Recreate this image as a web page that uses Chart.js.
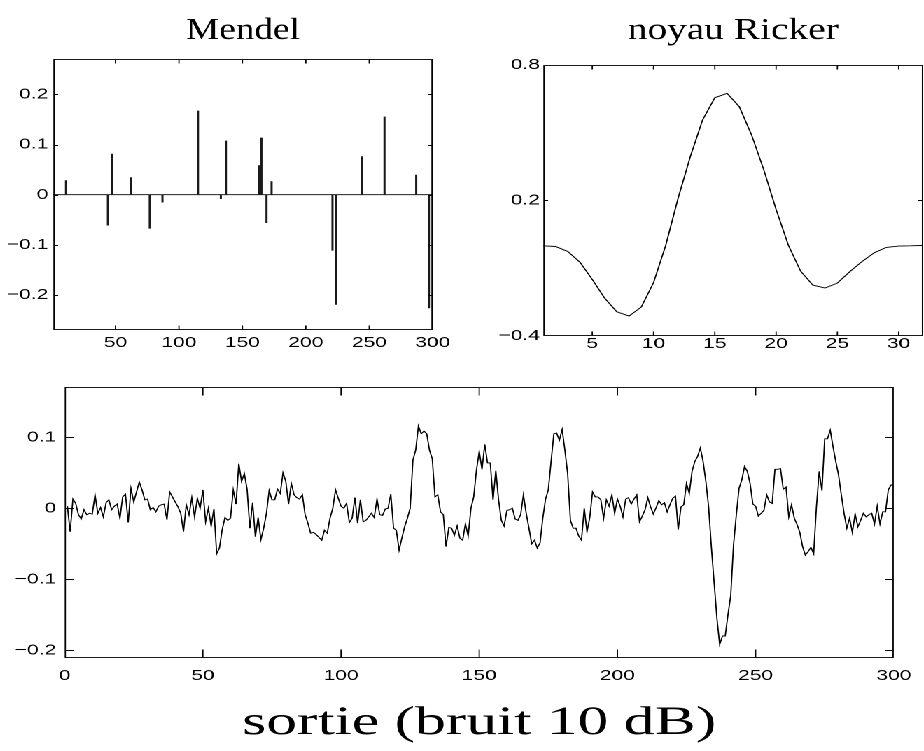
<!DOCTYPE html>
<html><head><meta charset="utf-8">
<script src="https://cdn.jsdelivr.net/npm/chart.js@4/dist/chart.umd.min.js"></script>
<style>
html,body{margin:0;padding:0;background:#fff;}
#page{position:relative;width:924px;height:751px;overflow:hidden;background:#fff;}
#wrap{position:absolute;left:0;top:0;width:660px;height:751px;transform:scaleX(1.4);transform-origin:0 0;}
canvas{position:absolute;}
</style></head><body>
<div id="page"><div id="wrap">
<canvas id="c1" width="330" height="370" style="left:0;top:0;width:330px;height:370px"></canvas>
<canvas id="c2" width="330" height="370" style="left:330px;top:0;width:330px;height:370px"></canvas>
<canvas id="c3" width="660" height="381" style="left:0;top:370px;width:660px;height:381px"></canvas>
</div></div>
<script>
// ---------- data ----------
const mendelTitle = 'Mendel';
const mendelPositions = [11, 44, 47, 62, 77, 87, 115, 133, 137, 163, 165, 169, 173, 221, 224, 244, 262, 287, 297];
const mendelAmplitudes = [0.028, -0.061, 0.081, 0.034, -0.067, -0.015, 0.167, -0.008, 0.107, 0.058, 0.113, -0.056, 0.026, -0.111, -0.219, 0.076, 0.155, 0.039, -0.226];
const mendelXTicks = [50, 100, 150, 200, 250, 300];
const mendelYTicks = [-0.2, -0.1, 0, 0.1, 0.2];

const rickerTitle = 'noyau Ricker';
const rickerIndex = [1,2,3,4,5,6,7,8,9,10,11,12,13,14,15,16,17,18,19,20,21,22,23,24,25,26,27,28,29,30,31,32];
const rickerValues = [-0.002, -0.005, -0.027, -0.075, -0.151, -0.233, -0.294, -0.313, -0.273, -0.165, 0.001, 0.208, 0.393, 0.555, 0.654, 0.673, 0.614, 0.489, 0.334, 0.159, 0.001, -0.114, -0.176, -0.189, -0.167, -0.117, -0.072, -0.033, -0.009, -0.003, -0.002, 0.000];
const rickerXTicks = [5, 10, 15, 20, 25, 30];
const rickerYTicks = [-0.4, 0.2, 0.8];

const sortieTitle = 'sortie (bruit 10 dB)';
const sortieValues = [
 0.003,-0.033,0.013,0.007,-0.009,-0.015,-0.002,-0.009,-0.007,-0.008,
 0.019,-0.007,0.001,-0.012,0.008,0.012,-0.002,0.003,0.006,-0.014,
 0.016,0.020,-0.020,0.028,0.009,0.023,0.037,0.026,0.012,0.013,
 -0.002,0.001,-0.005,0.003,0.005,0.006,-0.016,0.023,0.016,0.009,
 0.002,-0.007,-0.033,0.005,-0.009,0.015,-0.012,0.014,0.000,0.026,
 -0.019,0.000,-0.025,-0.001,-0.064,-0.056,-0.030,-0.013,-0.017,-0.014,
 0.026,0.006,0.063,0.038,0.049,0.027,-0.028,0.008,-0.040,-0.013,
 -0.044,-0.028,-0.007,0.025,0.012,0.012,0.027,0.021,0.050,0.038,
 0.006,0.035,0.019,0.015,0.013,0.019,-0.009,-0.021,-0.035,-0.034,
 -0.037,-0.041,-0.045,-0.031,-0.035,-0.014,0.000,0.026,0.014,0.003,
 0.000,0.007,-0.020,-0.014,0.015,-0.021,0.012,-0.019,-0.017,-0.012,
 -0.007,-0.013,0.013,-0.009,-0.010,-0.001,0.000,0.020,-0.028,-0.031,
 -0.059,-0.042,-0.026,-0.014,0.000,0.068,0.082,0.116,0.105,0.109,
 0.105,0.082,0.070,0.016,0.019,-0.005,-0.009,-0.054,-0.027,-0.028,
 -0.038,-0.025,-0.042,-0.045,-0.022,-0.039,0.000,0.016,0.054,0.080,
 0.055,0.090,0.064,0.064,0.012,0.053,0.012,-0.017,-0.025,-0.003,
 -0.002,0.000,-0.015,-0.017,-0.009,0.019,-0.007,-0.028,-0.050,-0.045,
 -0.056,-0.049,-0.014,0.013,0.026,0.066,0.105,0.106,0.096,0.111,
 0.082,0.049,-0.017,-0.028,-0.028,-0.039,-0.045,0.000,-0.033,-0.013,
 0.023,0.016,0.016,0.012,-0.014,0.012,0.003,0.019,-0.007,0.013,
 0.003,-0.012,0.013,0.015,0.006,0.013,0.019,-0.019,-0.011,-0.002,
 0.015,0.002,-0.008,0.001,0.011,0.005,0.008,-0.005,0.005,0.014,
 0.017,-0.030,0.002,0.005,0.035,0.021,0.052,0.066,0.073,0.085,
 0.066,0.038,0.002,-0.055,-0.105,-0.155,-0.192,-0.180,-0.180,-0.150,
 -0.123,-0.052,-0.010,0.028,0.040,0.059,0.052,0.035,0.006,0.003,
 -0.011,-0.007,-0.003,0.019,0.009,0.007,0.055,0.055,0.056,0.027,
 0.030,-0.012,0.005,-0.014,-0.023,-0.034,-0.054,-0.066,-0.061,-0.055,
 -0.064,0.002,0.052,0.025,0.098,0.098,0.110,0.087,0.066,0.047,
 0.019,-0.007,-0.028,-0.014,-0.034,-0.008,-0.026,-0.017,-0.007,-0.012,
 -0.009,-0.007,-0.022,0.003,-0.022,-0.005,-0.005,0.026,0.033,0.033
];
const sortieXTicks = [0, 50, 100, 150, 200, 250, 300];
const sortieYTicks = [-0.2, -0.1, 0, 0.1];

// ---------- helpers ----------
const STRETCH = 1.4; // horizontal stretch applied to the whole figure (CSS scaleX)
const TICK_FONT = {family: "'Liberation Sans', Arial, sans-serif", size: 15};
const TITLE_FAMILY = "'Liberation Serif', 'Times New Roman', serif";

function fmt(v) {
  const s = String(Math.round(v * 1000) / 1000);
  return s.replace('-', '\u2212');
}

const boxPlugin = {
  id: 'box',
  afterDraw(chart, args, o) {
    const {ctx, chartArea: a} = chart;
    const x = chart.scales.x, y = chart.scales.y;
    ctx.save();
    ctx.strokeStyle = '#000';
    ctx.lineWidth = 0.9;
    const L = a.left + 0.5, R = a.right - 0.5;
    const T = Math.round(a.top) + 0.5, B = Math.round(a.bottom) - 0.5;
    ctx.strokeRect(L, T, R - L, B - T);
    ctx.beginPath();
    x.ticks.forEach(t => {
      const p = x.getPixelForValue(t.value);
      if (p < L + 1.5 || p > R - 1.5) return;
      ctx.moveTo(p, B); ctx.lineTo(p, B - o.lenV);
      ctx.moveTo(p, T); ctx.lineTo(p, T + o.lenV);
    });
    y.ticks.forEach(t => {
      const p = Math.round(y.getPixelForValue(t.value)) + 0.5;
      if (p < T + 1.5 || p > B - 1.5) return;
      ctx.moveTo(L, p); ctx.lineTo(L + o.lenH, p);
      ctx.moveTo(R, p); ctx.lineTo(R - o.lenH, p);
    });
    ctx.stroke();
    if (o.title) {
      ctx.font = o.titleSize + 'px ' + TITLE_FAMILY;
      ctx.fillStyle = '#000';
      ctx.textAlign = 'center';
      ctx.textBaseline = 'alphabetic';
      const w = ctx.measureText(o.title).width;
      const sx = (o.titleWidth / STRETCH) / w;
      ctx.translate((a.left + a.right) / 2, o.titleY);
      ctx.scale(sx, 1);
      ctx.fillText(o.title, 0, 0);
    }
    ctx.restore();
  }
};

function axis(min, max, ticks, pad, isX, size) {
  return {
    type: 'linear', min, max, offset: false,
    afterBuildTicks: s => { s.ticks = ticks.map(v => ({value: v})); },
    afterFit: s => { if (isX) s.height = size; else s.width = size; },
    grid: {display: false, drawTicks: false, offset: false},
    border: {display: false},
    ticks: {padding: pad, color: '#000', font: TICK_FONT, callback: fmt,
            autoSkip: false, minRotation: 0, maxRotation: 0}
  };
}

function baseOptions(padding, scales, box) {
  return {
    responsive: false, animation: false, devicePixelRatio: 2,
    layout: {padding},
    plugins: {legend: {display: false}, tooltip: {enabled: false}, box},
    scales
  };
}

// ---------- Mendel ----------
new Chart(document.getElementById('c1'), {
  type: 'bar',
  data: {datasets: [
    {type: 'bar', data: mendelPositions.map((p, i) => ({x: p, y: mendelAmplitudes[i]})),
     backgroundColor: '#1a1a1a', borderWidth: 0, barThickness: 0.85, grouped: false},
    {type: 'line', data: [{x: 1, y: 0}, {x: 300, y: 0}], borderColor: '#000',
     borderWidth: 0.9, pointRadius: 0}
  ]},
  options: baseOptions({left: 5.07, right: 20.93, top: 59.3, bottom: 10},
    {x: axis(1, 300, mendelXTicks, 4, true, 30), y: axis(-0.27, 0.27, mendelYTicks, 3.6, false, 33)},
    {lenV: 4, lenH: 3, title: mendelTitle, titleY: 39, titleSize: 31, titleWidth: 114}),
  plugins: [boxPlugin]
});

// ---------- Ricker ----------
new Chart(document.getElementById('c2'), {
  type: 'line',
  data: {datasets: [
    {data: rickerIndex.map((k, i) => ({x: k, y: rickerValues[i]})), borderColor: '#000',
     borderWidth: 0.9, pointRadius: 0, tension: 0}
  ]},
  options: baseOptions({left: 25.07, right: 0.57, top: 64.7, bottom: 4.3},
    {x: axis(1, 32, rickerXTicks, -1, true, 30), y: axis(-0.4, 0.8, rickerYTicks, 2.4, false, 33)},
    {lenV: 4, lenH: 3, title: rickerTitle, titleY: 39, titleSize: 31, titleWidth: 211}),
  plugins: [boxPlugin]
});

// ---------- Sortie ----------
new Chart(document.getElementById('c3'), {
  type: 'line',
  data: {datasets: [
    {data: sortieValues.map((v, i) => ({x: i + 1, y: v})), borderColor: '#000',
     borderWidth: 0.9, pointRadius: 0, tension: 0}
  ]},
  options: baseOptions({left: 6.14, right: 19.29, top: 17, bottom: 63},
    {x: axis(0, 300, sortieXTicks, 9, true, 30), y: axis(-0.211, 0.171, sortieYTicks, 6, false, 40)},
    {lenV: 8, lenH: 6, title: sortieTitle, titleY: 364, titleSize: 40, titleWidth: 474}),
  plugins: [boxPlugin]
});
</script>
</body></html>
